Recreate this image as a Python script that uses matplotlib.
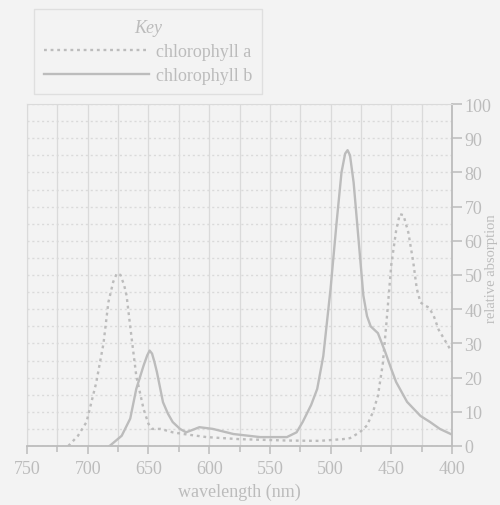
import numpy as np
import matplotlib.pyplot as plt

chl_a_nm = [716, 708, 701, 693, 687, 683, 679, 676, 673, 670, 668, 664, 660, 654, 650, 647, 640, 630,
            621, 602, 575, 536, 509, 490, 484, 476, 470, 465, 461, 457, 454, 450, 446, 443, 440, 436,
            432, 429, 426, 422, 419, 415, 411, 406, 401]
chl_a_val = [0, 3, 7, 18.5, 30, 42, 48, 50.5, 50, 47, 44, 32, 20.5, 10.8, 6.5, 5, 5, 4,
             3.5, 2.6, 2, 1.6, 1.5, 2, 2.3, 4, 6, 10, 14.7, 24, 36, 53, 63, 67.8, 67.5, 62.5,
             54, 46, 42, 41, 40.5, 38, 34, 31, 28]
chl_b_nm = [682, 672, 665, 660, 654, 651, 649, 647, 645, 643, 638, 634, 630, 624, 619, 613, 608, 597,
            580, 558, 536, 528, 523, 516, 511, 506, 500, 495, 491, 488, 486, 484, 481, 477, 473, 470,
            467, 464, 461, 455, 450, 446, 437, 426, 418, 410, 401]
chl_b_val = [0, 3, 8, 16.7, 23.5, 26.5, 27.9, 27, 24.5, 21.6, 12.8, 9.5, 7, 5, 4, 4.8, 5.5, 5,
             3.5, 2.6, 2.6, 4, 7, 12, 16.7, 26.3, 46, 65.5, 80, 85.5, 86.5, 85, 77, 60.5, 44, 38,
             35, 34, 33, 27.5, 22.5, 18.7, 12.9, 8.8, 7, 5, 3.5]

x_labels = [750, 700, 650, 600, 550, 500, 450, 400]
y_labels = [0, 10, 20, 30, 40, 50, 60, 70, 80, 90, 100]

paper = '#f3f3f3'
ink = '#bcbcbc'
grid_col = '#dadada'

plt.rcParams['font.family'] = ['Liberation Serif', 'DejaVu Serif']

fig = plt.figure(figsize=(5, 5.06), dpi=100, facecolor=paper)
ax = fig.add_axes([27 / 500, 1 - 447 / 506, 425 / 500, 342 / 506], facecolor=paper)

line_a, = ax.plot(chl_a_nm, chl_a_val, color=ink, lw=1.7, linestyle=(0, (1.2, 1.6)),
                  label='chlorophyll a')
line_b, = ax.plot(chl_b_nm, chl_b_val, color=ink, lw=1.7, label='chlorophyll b')

# scan is mirrored: 750 on the left, values axis on the right
ax.set_xlim(750, 400)
ax.set_ylim(0, 100)
ax.set_xticks(x_labels)
ax.set_xticks(np.arange(400, 751, 25), minor=True)
ax.set_yticks(y_labels)
ax.set_yticks(np.arange(0, 101, 5), minor=True)
ax.yaxis.tick_right()
ax.yaxis.set_label_position('right')

ax.grid(axis='x', which='both', color=grid_col, lw=0.9)
ax.grid(axis='y', which='both', color=grid_col, lw=1.0, linestyle=(0, (1.5, 2)))
ax.set_axisbelow(True)

for s in ax.spines.values():
    s.set_color(grid_col)
ax.spines['right'].set_color(ink)
ax.spines['bottom'].set_color(ink)
ax.spines['right'].set_linewidth(1.3)
ax.spines['bottom'].set_linewidth(1.3)

ax.tick_params(axis='both', which='both', colors=ink, labelcolor=ink, labelsize=13, width=1.1)
ax.tick_params(axis='x', which='major', length=6, pad=4)
ax.tick_params(axis='x', which='minor', length=4)
ax.tick_params(axis='y', which='major', length=7, pad=2)
ax.tick_params(axis='y', which='minor', length=0)

ax.set_xlabel('wavelength (nm)', color=ink, fontsize=13, labelpad=4)
ax.set_ylabel('relative absorption', color=ink, fontsize=10.5, rotation=90, va='center')
ax.yaxis.set_label_coords(1.093, 0.52)

leg = fig.legend(handles=[line_a, line_b], loc='upper left',
                 bbox_to_anchor=(25 / 500, 1 - 1 / 506), title='Key',
                 fontsize=13, handlelength=5.8, handletextpad=0.4,
                 frameon=True, fancybox=False, borderpad=0.55, labelspacing=0.4)
leg.get_frame().set_facecolor(paper)
leg.get_frame().set_edgecolor(grid_col)
leg.get_title().set_color(ink)
leg.get_title().set_fontstyle('italic')
leg.get_title().set_fontsize(13)
for t in leg.get_texts():
    t.set_color(ink)

fig.savefig('out.png', dpi=100, facecolor=paper)
